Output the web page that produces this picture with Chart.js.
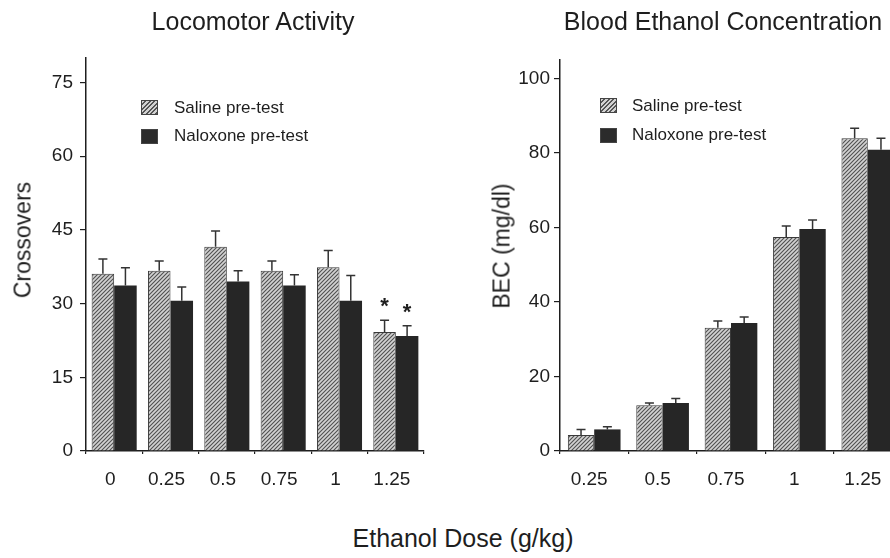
<!DOCTYPE html>
<html>
<head>
<meta charset="utf-8">
<script src="https://cdn.jsdelivr.net/npm/chart.js@4/dist/chart.umd.min.js"></script>
<style>
  html, body { margin: 0; padding: 0; background: #fff; overflow: hidden; }
  body { width: 890px; height: 558px; position: relative; font-family: "Liberation Sans", Arial, sans-serif; color: #1e1e1e; }
  canvas { position: absolute; top: 0; }
  .txt { position: absolute; white-space: nowrap; transform: translate(-50%, -50%); }
  .rot { transform: translate(-50%, -50%) rotate(-90deg); }
  .sw { position: absolute; width: 17px; height: 15px; box-sizing: border-box; border: 1px solid #444; }
  .hatch { background: repeating-linear-gradient(135deg, #d2d2d2 0 2px, #555 2px 3.2px); }
  .solid { background: #2b2b2b; }
  .leg { position: absolute; font-size: 17px; white-space: nowrap; transform: translateY(-50%); }
</style>
</head>
<body>
<canvas id="loco" width="445" height="500" style="left:0"></canvas>
<canvas id="bec" width="470" height="500" style="left:450px"></canvas>

<div class="txt" style="left:253px;top:21px;font-size:25px">Locomotor Activity</div>
<div class="txt" style="left:723px;top:21px;font-size:25px">Blood Ethanol Concentration</div>
<div class="txt rot" style="left:23px;top:240px;font-size:23px">Crossovers</div>
<div class="txt rot" style="left:502px;top:246px;font-size:23px">BEC (mg/dl)</div>
<div class="txt" style="left:463px;top:538px;font-size:25px">Ethanol Dose (g/kg)</div>

<div class="sw hatch" style="left:141px;top:100px"></div>
<div class="leg" style="left:174px;top:108px">Saline pre-test</div>
<div class="sw solid" style="left:141px;top:129px"></div>
<div class="leg" style="left:174px;top:136px">Naloxone pre-test</div>

<div class="sw hatch" style="left:600px;top:98px"></div>
<div class="leg" style="left:632px;top:106px">Saline pre-test</div>
<div class="sw solid" style="left:600px;top:128px"></div>
<div class="leg" style="left:632px;top:135px">Naloxone pre-test</div>

<script>
/* DATA - locomotor activity */
const locoDoses = ["0", "0.25", "0.5", "0.75", "1", "1.25"];
const locoSaline = [36.1, 36.7, 41.6, 36.7, 37.4, 24.2];
const locoSalineSem = [3.0, 2.0, 3.2, 2.0, 3.4, 2.4];
const locoNaloxone = [33.7, 30.6, 34.5, 33.7, 30.6, 23.4];
const locoNaloxoneSem = [3.6, 2.8, 2.2, 2.2, 5.1, 2.1];
const locoSalineSig = [false, false, false, false, false, true];
const locoNaloxoneSig = [false, false, false, false, false, true];

/* DATA - blood ethanol concentration */
const becDoses = ["0.25", "0.5", "0.75", "1", "1.25"];
const becSaline = [4.3, 12.3, 33.1, 57.5, 84.0];
const becSalineSem = [1.5, 0.6, 1.8, 2.9, 2.7];
const becNaloxone = [5.8, 12.9, 34.4, 59.6, 80.9];
const becNaloxoneSem = [0.7, 1.2, 1.6, 2.4, 3.1];

const ink = "#1e1e1e";
const tickFont = { family: "'Liberation Sans', Arial, sans-serif", size: 19 };

/* hatched fill for saline bars */
function hatchPattern() {
  const c = document.createElement("canvas");
  c.width = 4; c.height = 4;
  const g = c.getContext("2d");
  g.fillStyle = "#d2d2d2";
  g.fillRect(0, 0, 4, 4);
  g.strokeStyle = "#505050";
  g.lineWidth = 1.1;
  g.beginPath();
  g.moveTo(-1, 5); g.lineTo(5, -1);
  g.moveTo(-1, 1); g.lineTo(1, -1);
  g.moveTo(3, 5); g.lineTo(5, 3);
  g.stroke();
  return g.createPattern(c, "repeat");
}
const hatch = hatchPattern();

/* error bars (upper half only) and significance stars */
const errorBars = {
  id: "errorBars",
  afterDatasetsDraw(chart) {
    const ctx = chart.ctx;
    const y = chart.scales.y;
    chart.data.datasets.forEach((ds, i) => {
      const meta = chart.getDatasetMeta(i);
      meta.data.forEach((bar, j) => {
        const top = y.getPixelForValue(ds.data[j] + ds.sem[j]);
        ctx.save();
        ctx.strokeStyle = "#333";
        ctx.lineWidth = 1.5;
        ctx.beginPath();
        ctx.moveTo(bar.x, bar.y);
        ctx.lineTo(bar.x, top);
        ctx.moveTo(bar.x - 4.5, top);
        ctx.lineTo(bar.x + 4.5, top);
        ctx.stroke();
        if (ds.sig && ds.sig[j]) {
          ctx.fillStyle = ink;
          ctx.font = "bold 22px 'Liberation Sans', Arial, sans-serif";
          ctx.textAlign = "center";
          ctx.textBaseline = "middle";
          ctx.fillText("*", bar.x, top - 13);
        }
        ctx.restore();
      });
    });
  }
};

function makeChart(id, labels, sets, yMax, step, pad, catPct, yPad, labelShift) {
  return new Chart(document.getElementById(id).getContext("2d"), {
    type: "bar",
    data: {
      labels: labels,
      datasets: sets.map(s => ({
        data: s.data,
        sem: s.sem,
        sig: s.sig,
        backgroundColor: s.fill,
        borderColor: "#3a3a3a",
        borderWidth: s.border,
        categoryPercentage: catPct,
        barPercentage: 1.0
      }))
    },
    options: {
      responsive: false,
      animation: false,
      layout: { padding: pad },
      plugins: { legend: { display: false }, tooltip: { enabled: false } },
      scales: {
        x: {
          grid: { drawOnChartArea: false, tickLength: 3, color: ink, lineWidth: 1.2 },
          border: { color: ink, width: 1.5 },
          ticks: { font: tickFont, color: ink, padding: 14, labelOffset: labelShift },
          afterFit: s => { s.height = 49; }
        },
        y: {
          min: 0,
          max: yMax,
          grid: { drawOnChartArea: false, tickLength: 6, color: ink, lineWidth: 1.2 },
          border: { color: ink, width: 1.5 },
          ticks: { stepSize: step, includeBounds: false, font: tickFont, color: ink, padding: yPad },
          afterFit: s => { s.width = 60; }
        }
      }
    },
    plugins: [errorBars]
  });
}

makeChart("loco", locoDoses, [
  { data: locoSaline, sem: locoSalineSem, sig: locoSalineSig, fill: hatch, border: 1 },
  { data: locoNaloxone, sem: locoNaloxoneSem, sig: locoNaloxoneSig, fill: "#262626", border: 0 }
], 80, 15, { left: 26, top: 58, right: 21, bottom: 0 }, 0.8, 7, -4);

makeChart("bec", becDoses, [
  { data: becSaline, sem: becSalineSem, fill: hatch, border: 1 },
  { data: becNaloxone, sem: becNaloxoneSem, fill: "#262626", border: 0 }
], 105, 20, { left: 50, top: 60, right: 18, bottom: 0 }, 0.77, 4, -5);
</script>
</body>
</html>
